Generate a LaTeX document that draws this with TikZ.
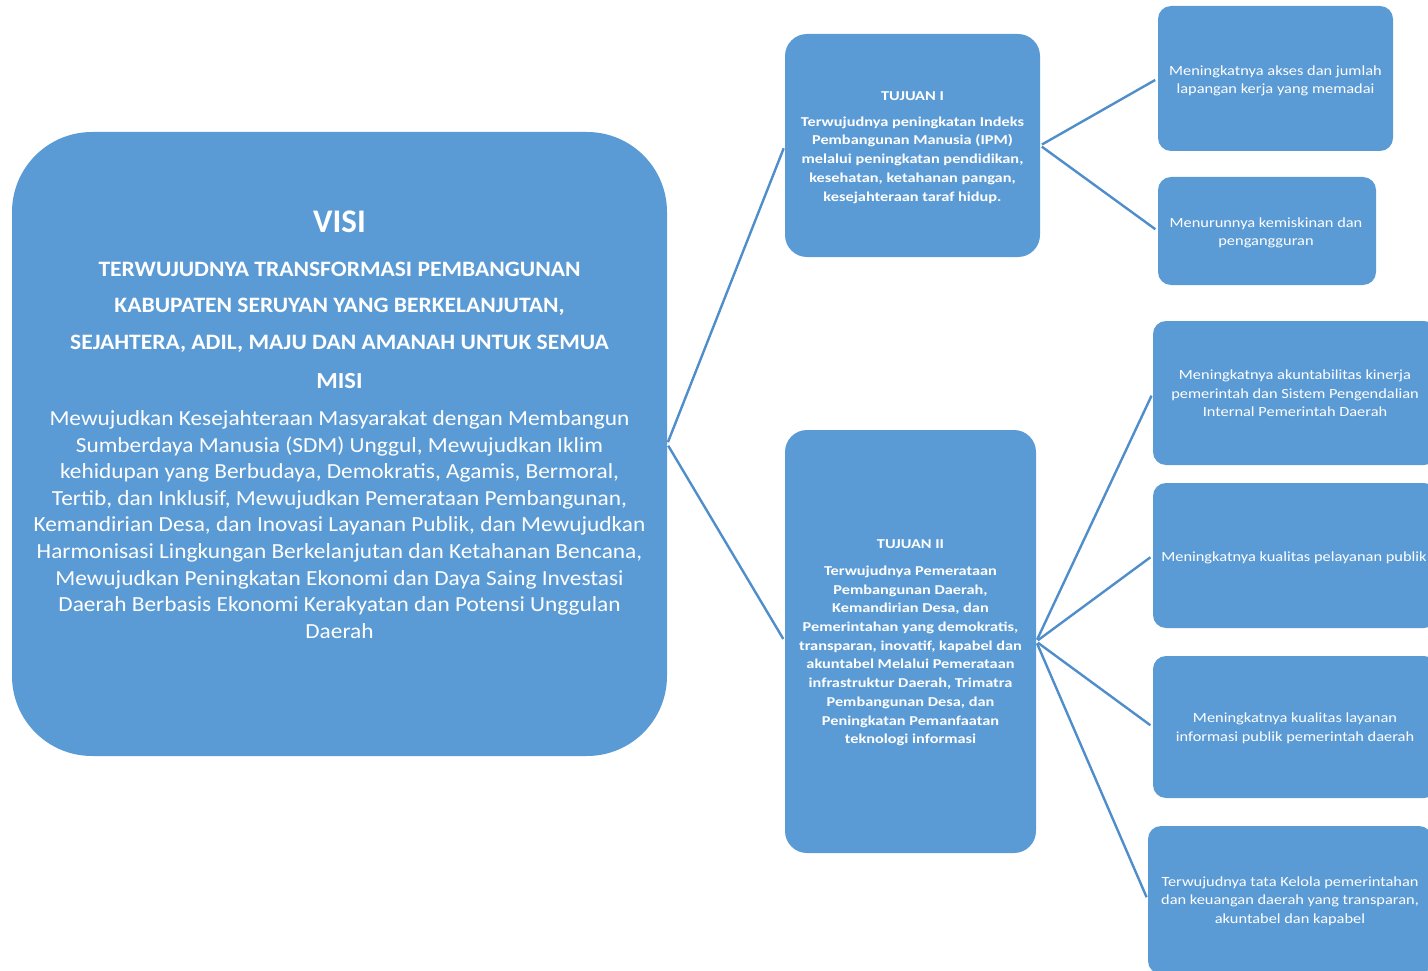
\documentclass[tikz,border=0pt]{standalone}
\usepackage{fontspec}
\setmainfont{Carlito}
\newfontfamily\leaffont[FakeStretch=1.17]{Carlito}
\newfontfamily\goalfont[FakeStretch=1.2]{Carlito}
\newfontfamily\misifont[FakeStretch=1.085]{Carlito}
\newfontfamily\visifont[FakeStretch=1.07]{Carlito}
\definecolor{boxblue}{HTML}{5B9BD5}
\definecolor{lineblue}{HTML}{4F8DCB}
\begin{document}
\begin{tikzpicture}[x=1pt,y=-1pt,
  box/.style={fill=boxblue, draw=none, inner sep=0pt},
  bigbox/.style={box, rounded corners=80pt},
  midbox/.style={box, rounded corners=22pt},
  leafbox/.style={box, rounded corners=13pt},
  conn/.style={draw=lineblue, line width=2.4pt, shorten <=2pt, shorten >=3pt},
  leaftext/.style={font=\leaffont\fontsize{14}{18.6}\selectfont, align=center, text=white, inner sep=0pt},
  goaltext/.style={font=\goalfont\fontsize{13.6}{18.7}\selectfont\bfseries, align=center, text=white, inner sep=0pt},
  goalhead/.style={font=\goalfont\fontsize{13.6}{16}\selectfont\bfseries, text=white, inner sep=0pt},
  visihead/.style={font=\fontsize{33}{38}\selectfont\bfseries, text=white, inner sep=0pt},
  visitext/.style={font=\visifont\fontsize{22}{36.5}\selectfont\bfseries, align=center, text=white, inner sep=0pt},
  misihead/.style={font=\visifont\fontsize{23}{26}\selectfont\bfseries, text=white, inner sep=0pt},
  misitext/.style={font=\misifont\fontsize{21.5}{26.6}\selectfont, align=center, text=white, inner sep=0pt}]
\useasboundingbox (0,0) rectangle (1428,971);
\clip (0,0) rectangle (1428,971);
% boxes
\node[bigbox, minimum width=655pt, minimum height=624pt] (visi) at (339.5,444) {};
\node[midbox, minimum width=255pt, minimum height=223pt] (t1) at (912.5,145.5) {};
\node[midbox, minimum width=251pt, minimum height=423pt] (t2) at (910.5,641.5) {};
\node[leafbox, minimum width=235pt, minimum height=145pt] (r1) at (1275.5,78.5) {};
\node[leafbox, minimum width=218pt, minimum height=108pt] (r2) at (1267,231) {};
\node[leafbox, minimum width=284pt, minimum height=144pt] (r3) at (1295,393) {};
\node[leafbox, minimum width=284pt, minimum height=145pt] (r4) at (1295,555.5) {};
\node[leafbox, minimum width=284pt, minimum height=142pt] (r5) at (1295,727) {};
\node[leafbox, minimum width=284pt, minimum height=148pt] (r6) at (1290,900) {};
% connectors
\draw[conn] (visi.east) -- (t1.west);
\draw[conn] (visi.east) -- (t2.west);
\draw[conn] (t1.east) -- (r1.west);
\draw[conn] (t1.east) -- (r2.west);
\draw[conn] (t2.east) -- (r3.west);
\draw[conn] (t2.east) -- (r4.west);
\draw[conn] (t2.east) -- (r5.west);
\draw[conn] (t2.east) -- (r6.west);
% visi texts
\node[visihead] (visititle) at (339.5,222) {VISI};
\node[visitext] (visibody) at (339.5,307) {TERWUJUDNYA TRANSFORMASI PEMBANGUNAN\\KABUPATEN SERUYAN YANG BERKELANJUTAN,\\SEJAHTERA, ADIL, MAJU DAN AMANAH UNTUK SEMUA};
\node[misihead] (misititle) at (339.5,381) {MISI};
\node[misitext] (misibody) at (339.5,524.5) {Mewujudkan Kesejahteraan Masyarakat dengan Membangun\\Sumberdaya Manusia (SDM) Unggul, Mewujudkan Iklim\\kehidupan yang Berbudaya, Demokratis, Agamis, Bermoral,\\Tertib, dan Inklusif, Mewujudkan Pemerataan Pembangunan,\\Kemandirian Desa, dan Inovasi Layanan Publik, dan Mewujudkan\\Harmonisasi Lingkungan Berkelanjutan dan Ketahanan Bencana,\\Mewujudkan Peningkatan Ekonomi dan Daya Saing Investasi\\Daerah Berbasis Ekonomi Kerakyatan dan Potensi Unggulan\\Daerah};
% tujuan texts
\node[goalhead] (t1head) at (912.5,96) {TUJUAN I};
\node[goaltext] (t1body) at (912.5,160) {Terwujudnya peningkatan Indeks\\Pembangunan Manusia (IPM)\\melalui peningkatan pendidikan,\\kesehatan, ketahanan pangan,\\kesejahteraan taraf hidup.};
\node[goalhead] (t2head) at (910.5,544) {TUJUAN II};
\node[goaltext] (t2body) at (910.5,656) {Terwujudnya Pemerataan\\Pembangunan Daerah,\\Kemandirian Desa, dan\\Pemerintahan yang demokratis,\\transparan, inovatif, kapabel dan\\akuntabel Melalui Pemerataan\\infrastruktur Daerah, Trimatra\\Pembangunan Desa, dan\\Peningkatan Pemanfaatan\\teknologi informasi};
% leaf texts
\node[leaftext] (r1t) at (1275.5,81) {Meningkatnya akses dan jumlah\\lapangan kerja yang memadai};
\node[leaftext] (r2t) at (1266,233) {Menurunnya kemiskinan dan\\pengangguran};
\node[leaftext] (r3t) at (1295,393.5) {Meningkatnya akuntabilitas kinerja\\pemerintah dan Sistem Pengendalian\\Internal Pemerintah Daerah};
\node[leaftext] (r4t) at (1294,558) {Meningkatnya kualitas pelayanan publik};
\node[leaftext] (r5t) at (1295,728.5) {Meningkatnya kualitas layanan\\informasi publik pemerintah daerah};
\node[leaftext] (r6t) at (1290,901) {Terwujudnya tata Kelola pemerintahan\\dan keuangan daerah yang transparan,\\akuntabel dan kapabel};
\end{tikzpicture}
\end{document}
